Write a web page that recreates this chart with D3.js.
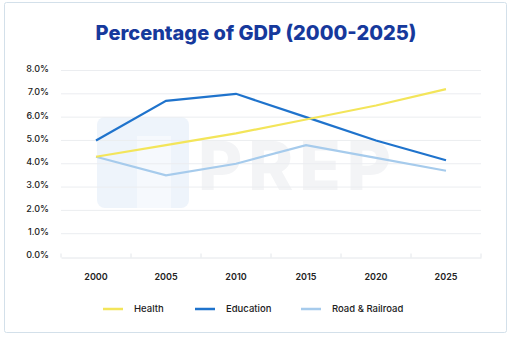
<!DOCTYPE html>
<html>
<head>
<meta charset="utf-8">
<script src="https://cdn.jsdelivr.net/npm/d3@7"></script>
<style>
  body { margin: 0; background: #fff; }
  svg { display: block; }
</style>
</head>
<body>
<script>
const years = ['2000', '2005', '2010', '2015', '2020', '2025'];
const health = [4.3, 4.8, 5.3, 5.9, 6.5, 7.2];
const education = [5.0, 6.7, 7.0, 6.0, 5.0, 4.15];
const road = [4.3, 3.5, 4.0, 4.8, 4.25, 3.7];
const yTicks = [0, 1, 2, 3, 4, 5, 6, 7, 8];

const series = [
  { name: 'Health', values: health, color: '#f3e55a' },
  { name: 'Education', values: education, color: '#1f73cc' },
  { name: 'Road & Railroad', values: road, color: '#a6cbec' }
];

const width = 512;
const height = 339;

const svg = d3.select('body').append('svg')
  .attr('width', width)
  .attr('height', height);

// card
svg.append('rect')
  .attr('x', 4.5).attr('y', 2.5)
  .attr('width', 502).attr('height', 330)
  .attr('rx', 2)
  .attr('fill', '#fff')
  .attr('stroke', '#d3e0ea');

svg.append('text')
  .attr('x', 256).attr('y', 40)
  .attr('text-anchor', 'middle')
  .attr('font-family', 'Inter, sans-serif')
  .attr('font-weight', 800)
  .attr('font-size', 20)
  .attr('fill', '#16399c')
  .text('Percentage of GDP (2000-2025)');

const x = d3.scaleBand().domain(years).range([61, 481]);
const y = d3.scaleLinear().domain([0, 8]).range([257, 70.5]);

// watermark
const wm = svg.append('g');
wm.append('rect')
  .attr('x', 97).attr('y', 117).attr('width', 92).attr('height', 91)
  .attr('rx', 8).attr('fill', '#eef4fb');
wm.append('rect')
  .attr('x', 137).attr('y', 136).attr('width', 34).attr('height', 72)
  .attr('fill', '#f6f9fd');
wm.append('text')
  .attr('x', 198).attr('y', 190)
  .attr('font-family', 'Inter, sans-serif')
  .attr('font-weight', 800)
  .attr('font-size', 68)
  .attr('letter-spacing', 6)
  .attr('fill', '#f3f4f6')
  .text('PREP');

// grid
svg.append('g')
  .selectAll('line')
  .data(yTicks.filter(d => d > 0))
  .join('line')
  .attr('x1', 61).attr('x2', 481)
  .attr('y1', d => y(d)).attr('y2', d => y(d))
  .attr('stroke', '#ebedf0');

const yAxis = svg.append('g')
  .attr('transform', 'translate(52,0)')
  .call(d3.axisLeft(y).tickValues(yTicks).tickSize(0).tickFormat(d => d.toFixed(1) + '%'));
yAxis.select('.domain').remove();
yAxis.selectAll('text')
  .attr('font-family', 'Inter, sans-serif')
  .attr('font-size', 9)
  .attr('font-weight', 500)
  .attr('fill', '#222')
  .attr('dy', '0.1em');

const xAxis = svg.append('g')
  .attr('transform', 'translate(0,257.5)')
  .call(d3.axisBottom(x).tickSize(0).tickPadding(16));
xAxis.select('.domain').attr('stroke', '#e3e6ea');
xAxis.selectAll('text')
  .attr('font-family', 'Inter, sans-serif')
  .attr('font-size', 9)
  .attr('font-weight', 600)
  .attr('fill', '#222');

// small ticks at band edges
xAxis.selectAll('.edge')
  .data(years.map(d => x(d)).concat([x.range()[1]]))
  .join('line')
  .attr('class', 'edge')
  .attr('x1', d => d).attr('x2', d => d)
  .attr('y1', -4).attr('y2', 0)
  .attr('stroke', '#e3e6ea');

const line = d3.line()
  .x((d, i) => x(years[i]) + x.bandwidth() / 2)
  .y(d => y(d));

svg.append('g')
  .selectAll('path')
  .data(series.slice().reverse())
  .join('path')
  .attr('d', d => line(d.values))
  .attr('fill', 'none')
  .attr('stroke', d => d.color)
  .attr('stroke-width', 2.2);

// legend
const legendX = [103, 195, 301];
const legend = svg.append('g')
  .selectAll('g')
  .data(series)
  .join('g')
  .attr('transform', (d, i) => `translate(${legendX[i]},309)`);
legend.append('line')
  .attr('x1', 0).attr('x2', 20)
  .attr('stroke', d => d.color)
  .attr('stroke-width', 2.5);
legend.append('text')
  .attr('x', 31).attr('dy', '0.35em')
  .attr('font-family', 'Inter, sans-serif')
  .attr('font-size', 9.5)
  .attr('font-weight', 500)
  .attr('fill', '#222')
  .text(d => d.name);
</script>
</body>
</html>
